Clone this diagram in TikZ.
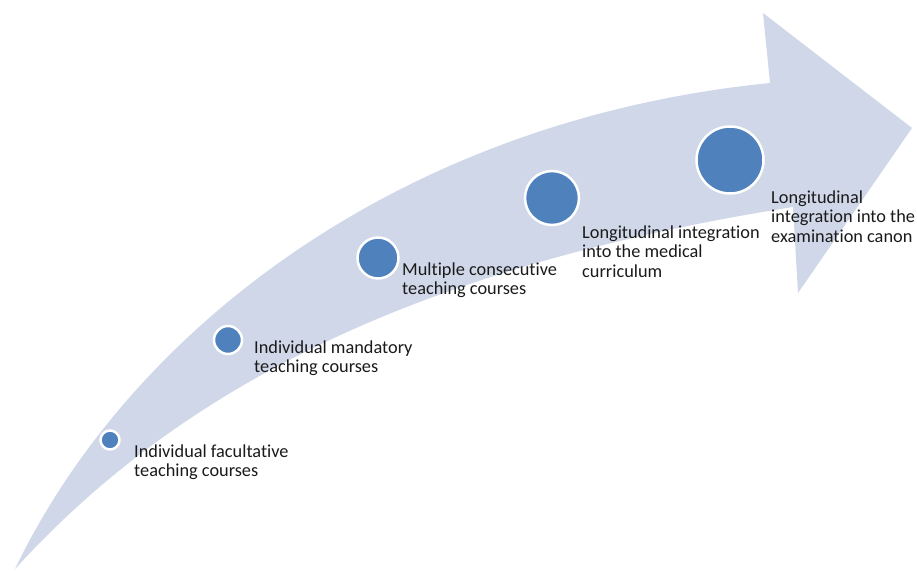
\documentclass[tikz,border=0pt]{standalone}
\usepackage{fontspec}
\setmainfont{Carlito}[Ligatures=NoCommon]
\definecolor{bandfill}{HTML}{CFD7E8}
\definecolor{dotfill}{HTML}{4F81BD}
\definecolor{txt}{HTML}{1A1A1A}
\begin{document}
\begin{tikzpicture}[x=1pt,y=-1pt,
  dot/.style={circle,fill=dotfill,draw=white,line width=2.5pt,inner sep=0pt},
  lbl/.style={anchor=base west,align=left,inner sep=0pt,text=txt,
    font=\fontsize{18.3}{19.5}\selectfont}]
\useasboundingbox (0,0) rectangle (917,570);
% curved arrow band
\fill[bandfill] (15,569) .. controls (130,330) and (400,120) .. (770,83)
  -- (763,13) -- (912,128) -- (798,293) -- (793,207)
  .. controls (380,272) and (160,410) .. (15,569) -- cycle;
% dots
\node[dot,minimum size=19pt] (d1) at (110,440) {};
\node[dot,minimum size=28pt] (d2) at (228,340) {};
\node[dot,minimum size=41pt] (d3) at (378,258) {};
\node[dot,minimum size=54pt] (d4) at (552,198) {};
\node[dot,minimum size=67pt] (d5) at (730,160) {};
% labels (anchor = baseline of last line)
\node[lbl] (t1) at (134,476.5) {Individual facultative\\teaching courses};
\node[lbl] (t2) at (254,372.5) {Individual mandatory\\teaching courses};
\node[lbl] (t3) at (402,294.5) {Multiple consecutive\\teaching courses};
\node[lbl] (t4) at (582,277) {Longitudinal integration\\into the medical\\curriculum};
\node[lbl] (t5) at (771,242) {Longitudinal\\integration into the\\examination canon};
\end{tikzpicture}
\end{document}
